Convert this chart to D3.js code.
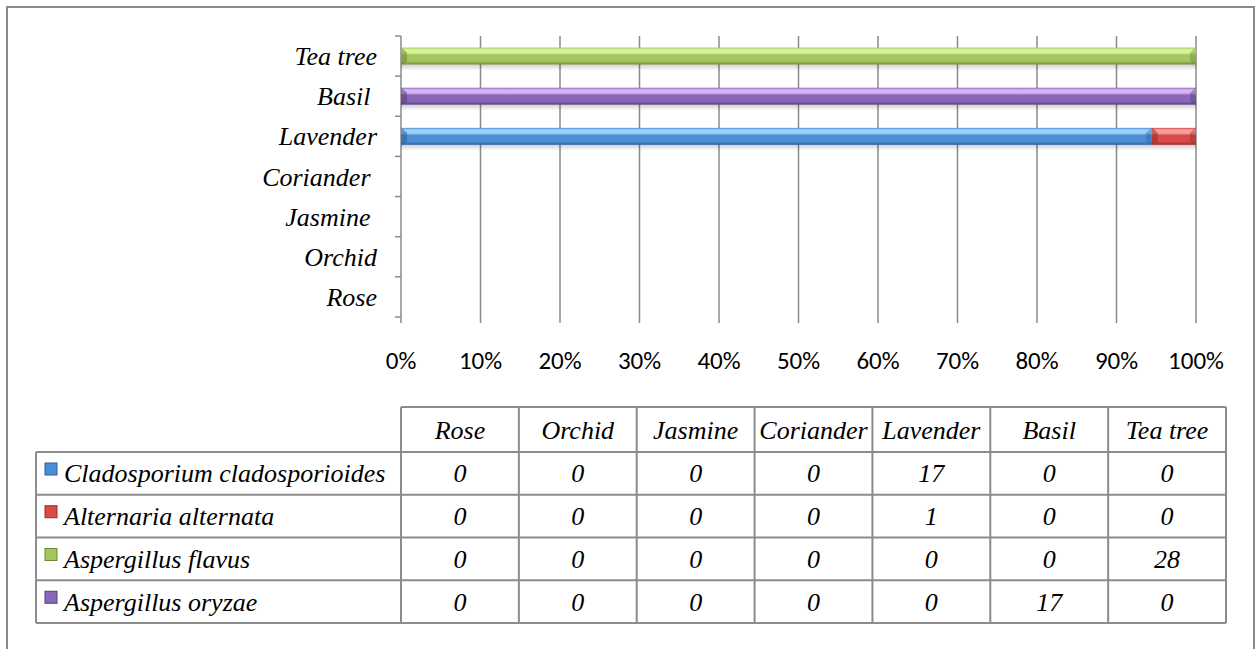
<!DOCTYPE html>
<html>
<head>
<meta charset="utf-8">
<script src="https://cdn.jsdelivr.net/npm/d3@7"></script>
<style>
  body { margin: 0; background: #fff; }
</style>
</head>
<body>
<svg id="canvas" width="1258" height="649"></svg>
<script>
// plants, bottom to top on the chart and left to right in the table
const categories = ["Rose", "Orchid", "Jasmine", "Coriander", "Lavender", "Basil", "Tea tree"];
// axis labels as typed in the source (some keep a trailing space)
const axisLabels = ["Rose", "Orchid", "Jasmine ", "Coriander ", "Lavender", "Basil ", "Tea tree"];

const seriesNames = ["Cladosporium cladosporioides", "Alternaria alternata", "Aspergillus flavus", "Aspergillus oryzae"];
const clado = [0, 0, 0, 0, 17, 0, 0];
const alternaria = [0, 0, 0, 0, 1, 0, 0];
const flavus = [0, 0, 0, 0, 0, 0, 28];
const oryzae = [0, 0, 0, 0, 0, 17, 0];
const seriesValues = [clado, alternaria, flavus, oryzae];

// light / base / dark for the bevelled look
const colors = [
  ["#9fd0fa", "#4a8fd6", "#2f5f9a"],
  ["#f7a0a0", "#d94a48", "#992c2b"],
  ["#d8f29a", "#a3c75e", "#6c8a35"],
  ["#d4b5f2", "#8a68b8", "#563d7d"]
];

let svg = d3.select("#canvas");

function label(x, y, str, anchor) {
  return svg.append("text")
    .attr("x", x)
    .attr("y", y)
    .attr("text-anchor", anchor)
    .attr("font-family", "serif")
    .attr("font-style", "italic")
    .attr("font-size", 26)
    .attr("fill", "#000")
    .attr("xml:space", "preserve")
    .text(str);
}

// outer chart border
svg.append("rect")
  .attr("x", 7).attr("y", 7)
  .attr("width", 1247).attr("height", 700)
  .attr("fill", "none")
  .attr("stroke", "#8a8a8a")
  .attr("stroke-width", 2);

let x = d3.scaleLinear().domain([0, 1]).range([401, 1196]);
let y = d3.scaleBand().domain(categories.slice().reverse()).range([36, 317]);

let defs = svg.append("defs");
colors.forEach((c, i) => {
  let g = defs.append("linearGradient")
    .attr("id", "grad" + i)
    .attr("x1", 0).attr("y1", 0).attr("x2", 0).attr("y2", 1);
  g.append("stop").attr("offset", "0%").attr("stop-color", c[1]);
  g.append("stop").attr("offset", "12%").attr("stop-color", c[0]);
  g.append("stop").attr("offset", "30%").attr("stop-color", c[0]);
  g.append("stop").attr("offset", "45%").attr("stop-color", c[1]);
  g.append("stop").attr("offset", "80%").attr("stop-color", c[1]);
  g.append("stop").attr("offset", "100%").attr("stop-color", c[2]);
});
let sh = defs.append("linearGradient")
  .attr("id", "shadow")
  .attr("x1", 0).attr("y1", 0).attr("x2", 0).attr("y2", 1);
sh.append("stop").attr("offset", "0%").attr("stop-color", "#000").attr("stop-opacity", 0.18);
sh.append("stop").attr("offset", "100%").attr("stop-color", "#000").attr("stop-opacity", 0);

// vertical gridlines with tick marks below
svg.append("g")
  .selectAll("line")
  .data(x.ticks(10))
  .join("line")
  .attr("x1", d => x(d)).attr("x2", d => x(d))
  .attr("y1", 36).attr("y2", 323)
  .attr("stroke", "#8a8a8a")
  .attr("stroke-width", 1.5);

// y axis ticks
let yTicks = y.domain().map(d => y(d)).concat([317]);
svg.append("g")
  .selectAll("line")
  .data(yTicks)
  .join("line")
  .attr("x1", 395).attr("x2", 401)
  .attr("y1", d => d).attr("y2", d => d)
  .attr("stroke", "#8a8a8a")
  .attr("stroke-width", 1.5);

// x tick labels
x.ticks(10).forEach(d => {
  svg.append("text")
    .attr("x", x(d))
    .attr("y", 369)
    .attr("text-anchor", "middle")
    .attr("font-family", "Carlito")
    .attr("font-size", 25)
    .attr("fill", "#000")
    .text(d3.format(".0%")(d));
});

// y labels
categories.forEach((c, i) => {
  label(377, y(c) + y.bandwidth() / 2 + 9, axisLabels[i], "end");
});

// stacked 100% bars
let rows = categories.map((c, i) => {
  let r = { cat: c };
  seriesNames.forEach((s, j) => r[s] = seriesValues[j][i]);
  return r;
});
let stack = d3.stack().keys(seriesNames).offset(d3.stackOffsetExpand);
let layers = stack(rows);
let barH = 17;

let segs = [];
layers.forEach((layer, j) => {
  layer.forEach(d => {
    if (d[1] - d[0] > 0) segs.push({ j: j, cat: d.data.cat, x0: d[0], x1: d[1] });
  });
});

let bars = svg.append("g");
// shadow under each bar
bars.selectAll("rect.shadow")
  .data(segs)
  .join("rect")
  .attr("class", "shadow")
  .attr("x", d => x(d.x0))
  .attr("width", d => x(d.x1) - x(d.x0))
  .attr("y", d => y(d.cat) + (y.bandwidth() - barH) / 2 + barH)
  .attr("height", 6)
  .attr("fill", "url(#shadow)");

bars.selectAll("rect.bar")
  .data(segs)
  .join("rect")
  .attr("class", "bar")
  .attr("x", d => x(d.x0))
  .attr("width", d => x(d.x1) - x(d.x0))
  .attr("y", d => y(d.cat) + (y.bandwidth() - barH) / 2)
  .attr("height", barH)
  .attr("fill", (d) => "url(#grad" + d.j + ")");

// bevelled ends
bars.selectAll("path.cap")
  .data(segs.flatMap(d => [{ s: d, side: 0 }, { s: d, side: 1 }]))
  .join("path")
  .attr("class", "cap")
  .attr("d", d => {
    let y0 = y(d.s.cat) + (y.bandwidth() - barH) / 2;
    let y1 = y0 + barH;
    let xe = d.side === 0 ? x(d.s.x0) : x(d.s.x1);
    let xi = d.side === 0 ? xe + 6 : xe - 6;
    return `M${xe},${y0} L${xi},${y0 + 5} L${xi},${y1 - 3} L${xe},${y1} Z`;
  })
  .attr("fill", d => colors[d.s.j][2])
  .attr("opacity", d => d.side === 0 ? 0.55 : 0.4);

// data table
let col = d3.scaleBand().domain(categories).range([401, 1226]);
let row = d3.scaleBand().domain(seriesNames).range([452, 623]);
let tbl = svg.append("g");
let lineColor = "#8c8c8c";

tbl.append("line")
  .attr("x1", 401).attr("x2", 1226).attr("y1", 407).attr("y2", 407)
  .attr("stroke", lineColor).attr("stroke-width", 2);
tbl.selectAll("line.h")
  .data(seriesNames.map(s => row(s)).concat([623]))
  .join("line")
  .attr("class", "h")
  .attr("x1", 36).attr("x2", 1226)
  .attr("y1", d => d).attr("y2", d => d)
  .attr("stroke", lineColor).attr("stroke-width", 2);
tbl.selectAll("line.v")
  .data(categories.map(c => col(c)).concat([1226]))
  .join("line")
  .attr("class", "v")
  .attr("x1", d => d).attr("x2", d => d)
  .attr("y1", 407).attr("y2", 623)
  .attr("stroke", lineColor).attr("stroke-width", 2);
tbl.append("line")
  .attr("x1", 36).attr("x2", 36).attr("y1", 452).attr("y2", 623)
  .attr("stroke", lineColor).attr("stroke-width", 2);

// header
categories.forEach(c => label(col(c) + col.bandwidth() / 2, 439, c, "middle"));

// legend column
seriesNames.forEach((s, i) => {
  svg.append("rect")
    .attr("x", 45)
    .attr("y", row(s) + 11)
    .attr("width", 12).attr("height", 12)
    .attr("fill", colors[i][1])
    .attr("stroke", colors[i][2])
    .attr("stroke-width", 1);
  label(64, row(s) + row.bandwidth() / 2 + 9, s, "start");
});

// values
seriesNames.forEach((s, j) => {
  seriesValues[j].forEach((v, i) => {
    label(col(categories[i]) + col.bandwidth() / 2, row(s) + row.bandwidth() / 2 + 9, String(v), "middle");
  });
});
</script>
</body>
</html>
